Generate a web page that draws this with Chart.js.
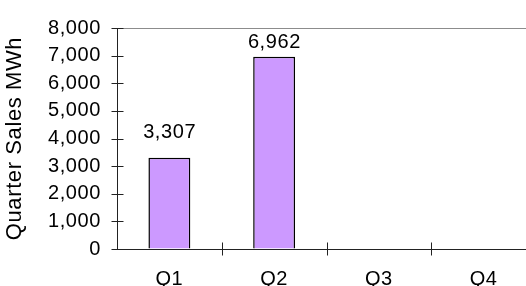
<!DOCTYPE html>
<html><head><meta charset="utf-8">
<script src="https://cdn.jsdelivr.net/npm/chart.js@4/dist/chart.umd.min.js"></script>
<style>
html,body{margin:0;padding:0;overflow:hidden;background:#fff;width:526px;height:286px}
canvas{display:block}
</style></head>
<body><canvas id="c" width="540" height="300"></canvas>
<script>
const categories = ['Q1', 'Q2', 'Q3', 'Q4'];
const salesMWh = [3307, 6962, null, null];
const yMin = 0, yMax = 8000, yStep = 1000;
const yAxisTitle = 'Quarter Sales MWh';

const FONT = '"Liberation Sans", Arial, sans-serif';
const FS = 20;
const SPACING = '0.6px';

const spacingPlugin = {
  id: 'spacing',
  beforeLayout(c) { c.ctx.letterSpacing = SPACING; },
  beforeDraw(c) { c.ctx.letterSpacing = SPACING; }
};

const crossTicks = {
  id: 'crossTicks',
  afterDraw(c) {
    const ctx = c.ctx, y = c.scales.y, x = c.scales.x;
    ctx.save();
    ctx.strokeStyle = '#222';
    ctx.lineWidth = 1;
    const ax = Math.round(y.right) + 0.5;
    y.ticks.forEach((t, i) => {
      const py = Math.round(y.getPixelForTick(i)) + 0.5;
      ctx.beginPath(); ctx.moveTo(ax - 6, py); ctx.lineTo(ax + 6, py); ctx.stroke();
    });
    const ay = Math.round(x.top) - 0.5;
    for (let i = 1; i < categories.length; i++) {
      const px = Math.round(x.getPixelForValue(i - 0.5)) + 0.5;
      ctx.beginPath(); ctx.moveTo(px, ay - 6); ctx.lineTo(px, ay + 7); ctx.stroke();
    }
    ctx.restore();
  }
};

const dataLabels = {
  id: 'dataLabels',
  afterDatasetsDraw(c) {
    const ctx = c.ctx;
    const meta = c.getDatasetMeta(0);
    ctx.save();
    ctx.font = FS + 'px ' + FONT;
    ctx.fillStyle = '#000';
    ctx.textAlign = 'center';
    ctx.textBaseline = 'alphabetic';
    meta.data.forEach((bar, i) => {
      const v = salesMWh[i];
      if (v == null) return;
      let yb = bar.y - 20;
      const minY = c.chartArea.top + FS * 0.905 + 2;
      if (yb < minY) yb = minY;
      ctx.fillText(v.toLocaleString('en-US'), bar.x + 0.3, yb);
    });
    ctx.restore();
  }
};

new Chart(document.getElementById('c'), {
  type: 'bar',
  data: {
    labels: categories,
    datasets: [{
      data: salesMWh,
      backgroundColor: '#CC99FF',
      borderColor: '#000',
      borderWidth: 1.5,
      barPercentage: 0.4,
      categoryPercentage: 1.0
    }]
  },
  options: {
    responsive: false,
    maintainAspectRatio: false,
    devicePixelRatio: 1,
    animation: false,
    locale: 'en-US',
    layout: { padding: { left: 0, right: 4, top: 23, bottom: 0 } },
    plugins: { legend: { display: false }, tooltip: { enabled: false } },
    scales: {
      x: {
        offset: true,
        grid: { display: false, drawTicks: false },
        border: { display: true, color: '#222', width: 1 },
        ticks: { color: '#000', font: { family: FONT, size: FS }, padding: 18, maxRotation: 0 },
        afterFit(s) { s.height = 51; }
      },
      y: {
        min: yMin, max: yMax,
        ticks: { stepSize: yStep, color: '#000', font: { family: FONT, size: FS }, padding: 16 },
        grid: {
          drawTicks: false,
          color: (ctx) => (ctx.tick && ctx.tick.value === yMax) ? '#8c8c8c' : 'rgba(0,0,0,0)',
          lineWidth: 1
        },
        border: { display: true, color: '#222', width: 1 },
        title: { display: true, text: yAxisTitle, color: '#000', font: { family: FONT, size: 22 }, padding: { top: 2, bottom: 0 } },
        afterFit(s) { s.width = 117; }
      }
    }
  },
  plugins: [spacingPlugin, crossTicks, dataLabels]
});
</script>
</body></html>
